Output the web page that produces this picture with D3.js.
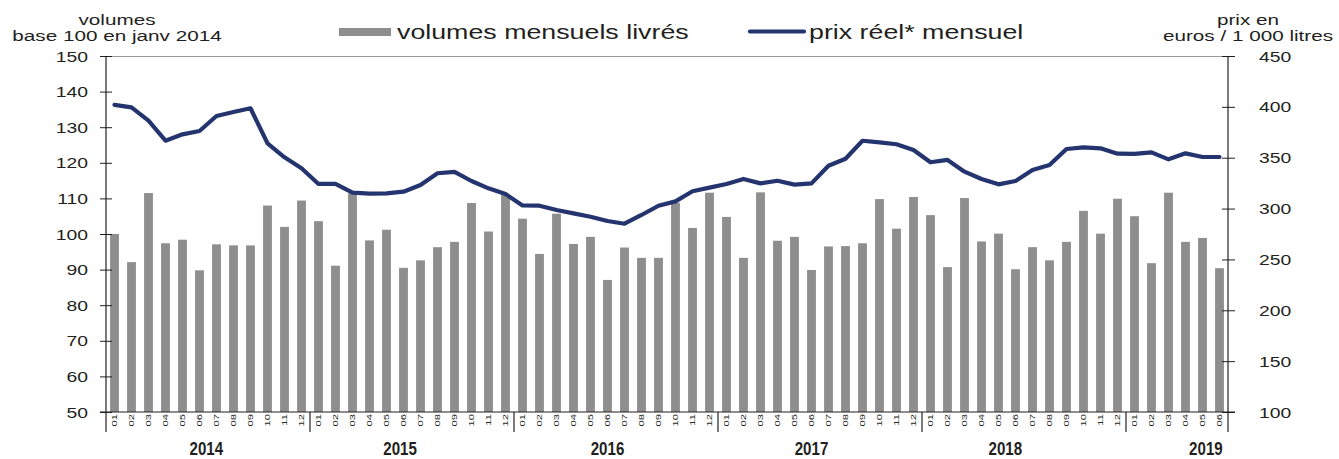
<!DOCTYPE html>
<html>
<head>
<meta charset="utf-8">
<script src="https://cdn.jsdelivr.net/npm/d3@7"></script>
<style>
    body {
        margin: 0;
        background: #fff;
    }
    svg text {
        font-family: "Liberation Sans", Arial, sans-serif;
        fill: #231f20;
    }
    .year-label {
        font-weight: bold;
    }
    .month-label {
        -webkit-font-smoothing: antialiased;
    }
</style>
</head>
<body>
<svg id="svg"></svg>
<script>
const years = [2014, 2015, 2016, 2017, 2018, 2019];
const monthLabels = ['01', '02', '03', '04', '05', '06', '07', '08', '09', '10', '11', '12'];

// volumes mensuels livrés, base 100 en janv 2014
const volumes = [
    100.0, 92.1, 111.5, 97.4, 98.4, 89.8, 97.1, 96.8, 96.8, 108.0, 102.0, 109.4,
    103.6, 91.1, 111.4, 98.2, 101.2, 90.5, 92.6, 96.3, 97.8, 108.7, 100.7, 111.0,
    104.3, 94.4, 105.7, 97.2, 99.2, 87.1, 96.2, 93.3, 93.3, 108.8, 101.7, 111.6,
    104.8, 93.3, 111.7, 98.1, 99.2, 89.9, 96.5, 96.6, 97.4, 109.8, 101.5, 110.4,
    105.3, 90.7, 110.1, 97.9, 100.1, 90.1, 96.3, 92.6, 97.8, 106.5, 100.1, 109.9,
    105.0, 91.8, 111.6, 97.8, 98.9, 90.4
];

// prix réel mensuel, euros / 1 000 litres
const prices = [
    402.0, 399.5, 386.4, 366.7, 373.0, 376.3, 391.0, 395.0, 398.6, 364.2, 350.4, 339.6,
    324.2, 324.2, 315.6, 314.6, 314.9, 316.6, 323.2, 334.7, 336.0, 327.1, 319.9, 314.3,
    303.0, 302.8, 298.6, 295.3, 292.0, 287.8, 285.1, 293.7, 302.8, 307.1, 317.0, 320.6,
    324.2, 329.1, 324.8, 327.4, 323.5, 324.8, 342.1, 349.0, 366.7, 365.1, 363.2, 357.6,
    345.5, 347.8, 336.3, 329.1, 323.8, 327.1, 337.9, 342.8, 358.6, 360.2, 359.2, 354.0,
    353.7, 355.3, 348.4, 354.3, 350.7, 350.7
];

const leftTicks = [50, 60, 70, 80, 90, 100, 110, 120, 130, 140, 150];
const rightTicks = [100, 150, 200, 250, 300, 350, 400, 450];

const legendLabels = ['volumes mensuels livrés', 'prix réel* mensuel'];
const leftTitle = ['volumes', 'base 100 en janv 2014'];
const rightTitle = ['prix en', 'euros / 1 000 litres'];

// layout
const width = 1339, height = 459;
const margin = {top: 56, left: 106, right: 111, bottom: 47};
const stretch = 1.38;       // the source text is drawn wide
const barColor = '#8f8e8f';
const lineColor = '#24346e';
const axisColor = '#231f20';
// where each year label sits, in months from the start of its year
const yearLabelOffset = [5.4, 4.8, 5.0, 5.0, 4.4, 4.2];

const rows = volumes.map((v, i) => ({
    key: i,
    year: years[Math.floor(i / 12)],
    month: monthLabels[i % 12],
    volume: v,
    price: prices[i],
}));

const svg = d3.select('#svg')
    .attr('width', width)
    .attr('height', height);

const x0 = margin.left, x1 = width - margin.right;
const yTop = margin.top, yBottom = height - margin.bottom;

const xScale = d3.scaleBand()
    .domain(rows.map(d => d.key))
    .range([x0, x1])
    .paddingInner(0.48)
    .paddingOuter(0.24);
const step = (x1 - x0) / rows.length;

const yLeft = d3.scaleLinear().domain([50, 150]).range([yBottom, yTop]);
const yRight = d3.scaleLinear().domain([100, 450]).range([yBottom, yTop]);

function wideText(sel, x, y, sx) {
    return sel.attr('transform', 'translate(' + x + ',' + y + ') scale(' + sx + ',1)');
}

// top frame line
svg.append('line')
    .attr('x1', x0 - 6).attr('x2', x1)
    .attr('y1', yTop + 0.5).attr('y2', yTop + 0.5)
    .attr('stroke', '#9a9a9a')
    .attr('stroke-width', 1.2);

// bars
svg.append('g')
    .selectAll('rect')
    .data(rows)
  .enter().append('rect')
    .attr('x', d => xScale(d.key))
    .attr('width', xScale.bandwidth())
    .attr('y', d => yLeft(d.volume))
    .attr('height', d => yBottom - yLeft(d.volume))
    .attr('fill', barColor);

// price line
const line = d3.line()
    .x(d => xScale(d.key) + xScale.bandwidth() / 2)
    .y(d => yRight(d.price));

svg.append('path')
    .datum(rows)
    .attr('d', line)
    .attr('fill', 'none')
    .attr('stroke', lineColor)
    .attr('stroke-width', 4.2)
    .attr('stroke-linejoin', 'round')
    .attr('stroke-linecap', 'round');

// left axis
const leftAxis = svg.append('g')
    .attr('transform', 'translate(' + x0 + ',0)')
    .call(d3.axisLeft(yLeft).tickValues(leftTicks).tickSize(6).tickFormat(d3.format('d')));
leftAxis.select('.domain').remove();
leftAxis.selectAll('.tick line')
    .attr('x1', -6).attr('x2', 6)
    .attr('stroke', axisColor);
leftAxis.selectAll('.tick text')
    .attr('x', 0).attr('dy', null)
    .attr('fill', axisColor)
    .style('font-size', '14px')
    .each(function() { wideText(d3.select(this), -18, 5, stretch); });

// right axis
const rightAxis = svg.append('g')
    .attr('transform', 'translate(' + x1 + ',0)')
    .call(d3.axisRight(yRight).tickValues(rightTicks).tickSize(6).tickFormat(d3.format('d')));
rightAxis.select('.domain').remove();
rightAxis.selectAll('.tick line')
    .attr('x1', -6).attr('x2', 7)
    .attr('stroke', axisColor);
rightAxis.selectAll('.tick text')
    .attr('x', 0).attr('dy', null)
    .attr('fill', axisColor)
    .style('font-size', '14px')
    .each(function() { wideText(d3.select(this), 31, 5, stretch); });

// axis lines, they run below the baseline down to the year row
const axisLines = svg.append('g').attr('stroke', axisColor).attr('stroke-width', 1.2);
axisLines.append('line')
    .attr('x1', x0).attr('x2', x0)
    .attr('y1', yTop).attr('y2', yBottom + 20);
axisLines.append('line')
    .attr('x1', x1).attr('x2', x1)
    .attr('y1', yTop).attr('y2', yBottom + 20);
axisLines.append('line')
    .attr('x1', x0 - 6).attr('x2', x1 + 7)
    .attr('y1', yBottom).attr('y2', yBottom);

// year separators
axisLines.selectAll('.sep')
    .data(years.slice(1))
  .enter().append('line')
    .attr('class', 'sep')
    .attr('x1', (d, i) => x0 + step * 12 * (i + 1))
    .attr('x2', (d, i) => x0 + step * 12 * (i + 1))
    .attr('y1', yBottom)
    .attr('y2', yBottom + 20);

// month labels, rotated
svg.append('g')
    .selectAll('text')
    .data(rows)
  .enter().append('text')
    .attr('class', 'month-label')
    .attr('text-anchor', 'end')
    .style('font-size', '7.5px')
    .attr('transform', d => 'translate(' + (xScale(d.key) + xScale.bandwidth() / 2 + 2.7) + ',' + (yBottom + 2) + ') rotate(-90) scale(1.5,1)')
    .text(d => d.month);

// year labels
svg.append('g')
    .selectAll('text')
    .data(years)
  .enter().append('text')
    .attr('class', 'year-label')
    .attr('text-anchor', 'middle')
    .style('font-size', '18px')
    .each(function(d, i) {
        const xc = x0 + step * (12 * i + yearLabelOffset[i] + 0.5);
        wideText(d3.select(this), xc, 455, 0.84);
    })
    .text(d => d);

// axis titles
svg.append('g')
    .selectAll('text')
    .data(leftTitle)
  .enter().append('text')
    .attr('text-anchor', 'middle')
    .style('font-size', '15px')
    .each(function(d, i) { wideText(d3.select(this), 117, 25 + i * 16, stretch); })
    .text(d => d);

svg.append('g')
    .selectAll('text')
    .data(rightTitle)
  .enter().append('text')
    .attr('text-anchor', 'middle')
    .style('font-size', '15px')
    .each(function(d, i) { wideText(d3.select(this), 1248, 25 + i * 16, stretch); })
    .text(d => d);

// legend
const legend = svg.append('g');
legend.append('rect')
    .attr('x', 339).attr('y', 28)
    .attr('width', 52).attr('height', 8)
    .attr('fill', barColor);
legend.append('text')
    .style('font-size', '20px')
    .each(function() { wideText(d3.select(this), 397, 39, 1.34); })
    .text(legendLabels[0]);
legend.append('line')
    .attr('x1', 750).attr('x2', 804)
    .attr('y1', 31.5).attr('y2', 31.5)
    .attr('stroke', lineColor)
    .attr('stroke-width', 4.2)
    .attr('stroke-linecap', 'round');
legend.append('text')
    .style('font-size', '20px')
    .each(function() { wideText(d3.select(this), 809, 39, 1.34); })
    .text(legendLabels[1]);
</script>
</body>
</html>
